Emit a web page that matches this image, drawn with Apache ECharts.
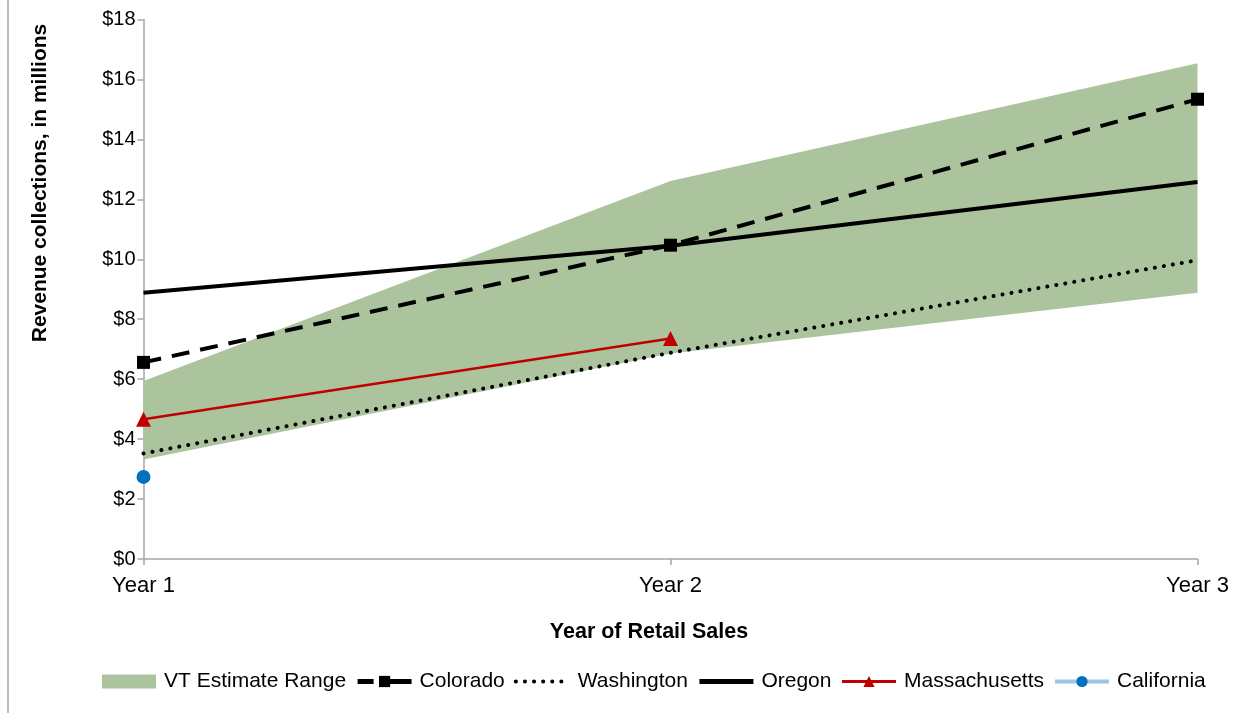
<!DOCTYPE html>
<html>
<head>
<meta charset="utf-8">
<script src="https://cdn.jsdelivr.net/npm/echarts@6/dist/echarts.min.js"></script>
<style>html,body{margin:0;padding:0;background:#fff}#c{width:1244px;height:713px}</style>
</head>
<body>
<div id="c"></div>
<script>
var categories = ['Year 1', 'Year 2', 'Year 3'];
var yTicks = [0, 2, 4, 6, 8, 10, 12, 14, 16, 18];
var vtLow = [3.32, 6.86, 8.88];
var vtHigh = [5.94, 12.61, 16.54];
var colorado = [6.56, 10.47, 15.34];
var washington = [3.52, 6.88, 9.97];
var oregon = [8.88, 10.45, 12.58];
var massachusetts = [4.66, 7.36, null];
var california = [2.74, null, null];

var vtBand = vtHigh.map(function (v, i) { return +(v - vtLow[i]).toFixed(2); });
var font = 'Liberation Sans, Arial, sans-serif';

var chart = echarts.init(document.getElementById('c'), null, {renderer: 'canvas'});
chart.setOption({
  animation: false,
  backgroundColor: '#fff',
  grid: {left: 143.5, right: 46.5, top: 19.5, bottom: 154, containLabel: false},
  xAxis: {
    type: 'category', data: categories, boundaryGap: false,
    axisLine: {lineStyle: {color: '#A6A6A6', width: 1.5}},
    axisTick: {show: true, alignWithLabel: true, length: 6, lineStyle: {color: '#A6A6A6', width: 1.5}},
    axisLabel: {color: '#000', fontFamily: font, fontSize: 22, margin: 16},
    splitLine: {show: false}
  },
  yAxis: {
    type: 'value', min: 0, max: 18, interval: 2,
    axisLine: {show: true, lineStyle: {color: '#A6A6A6', width: 1.5}},
    axisTick: {show: true, length: 6, lineStyle: {color: '#A6A6A6', width: 1.5}},
    axisLabel: {color: '#000', fontFamily: font, fontSize: 20, margin: 8,
      formatter: function (v) { return yTicks.indexOf(v) >= 0 ? '$' + v : ''; }},
    splitLine: {show: false}
  },
  legend: {
    bottom: 16, left: 97,
    itemWidth: 54, itemHeight: 14, itemGap: 9,
    textStyle: {color: '#000', fontFamily: font, fontSize: 21, padding: [0, 0, 0, 3]},
    data: [
      {name: 'VT Estimate Range', icon: 'rect', itemStyle: {color: '#ABC49D'}},
      {name: 'Colorado', lineStyle: {width: 5, type: [16, 6, 100, 0]}},
      {name: 'Washington', itemStyle: {opacity: 0}, lineStyle: {width: 4, type: [0.1, 9], cap: 'round'}},
      {name: 'Oregon', itemStyle: {opacity: 0}, lineStyle: {width: 5}},
      {name: 'Massachusetts', lineStyle: {width: 3}},
      {name: 'California', lineStyle: {width: 4}}
    ]
  },
  graphic: [
    {type: 'line', shape: {x1: 8, y1: 0, x2: 8, y2: 713}, style: {stroke: '#A6A6A6', lineWidth: 1.5}},
    {type: 'text', x: 649, y: 632, style: {text: 'Year of Retail Sales', font: 'bold 21.5px Liberation Sans, Arial, sans-serif', fill: '#000', textAlign: 'center', textVerticalAlign: 'middle'}},
    {type: 'text', x: 40, y: 183, rotation: Math.PI / 2, style: {text: 'Revenue collections, in millions', font: 'bold 21px Liberation Sans, Arial, sans-serif', fill: '#000', textAlign: 'center', textVerticalAlign: 'middle'}}
  ],
  series: [
    {name: 'vtBase', type: 'line', stack: 'vt', data: vtLow, symbol: 'none', lineStyle: {width: 0, opacity: 0}, silent: true, z: 1},
    {name: 'VT Estimate Range', type: 'line', stack: 'vt', data: vtBand, symbol: 'none',
      lineStyle: {width: 0, opacity: 0}, areaStyle: {color: '#ABC49D', opacity: 1}, itemStyle: {color: '#ABC49D'}, z: 1},
    {name: 'Colorado', type: 'line', data: colorado, symbol: 'rect', symbolSize: 13,
      itemStyle: {color: '#000'}, lineStyle: {color: '#000', width: 4, type: [18, 11]}, z: 3},
    {name: 'Washington', type: 'line', data: washington, symbol: 'none', showSymbol: false,
      itemStyle: {color: '#000'}, lineStyle: {color: '#000', width: 4, type: [0.1, 9], cap: 'round'}, z: 3},
    {name: 'Oregon', type: 'line', data: oregon, symbol: 'none', showSymbol: false,
      itemStyle: {color: '#000'}, lineStyle: {color: '#000', width: 4}, z: 3},
    {name: 'Massachusetts', type: 'line', data: massachusetts, symbol: 'triangle', symbolSize: 15,
      itemStyle: {color: '#C00000'}, lineStyle: {color: '#C00000', width: 2.5}, z: 4},
    {name: 'California', type: 'line', data: california, symbol: 'circle', symbolSize: 14, showSymbol: true,
      itemStyle: {color: '#0070C0'}, lineStyle: {color: '#9DC3E6', width: 3}, z: 4}
  ]
});
</script>
</body>
</html>
